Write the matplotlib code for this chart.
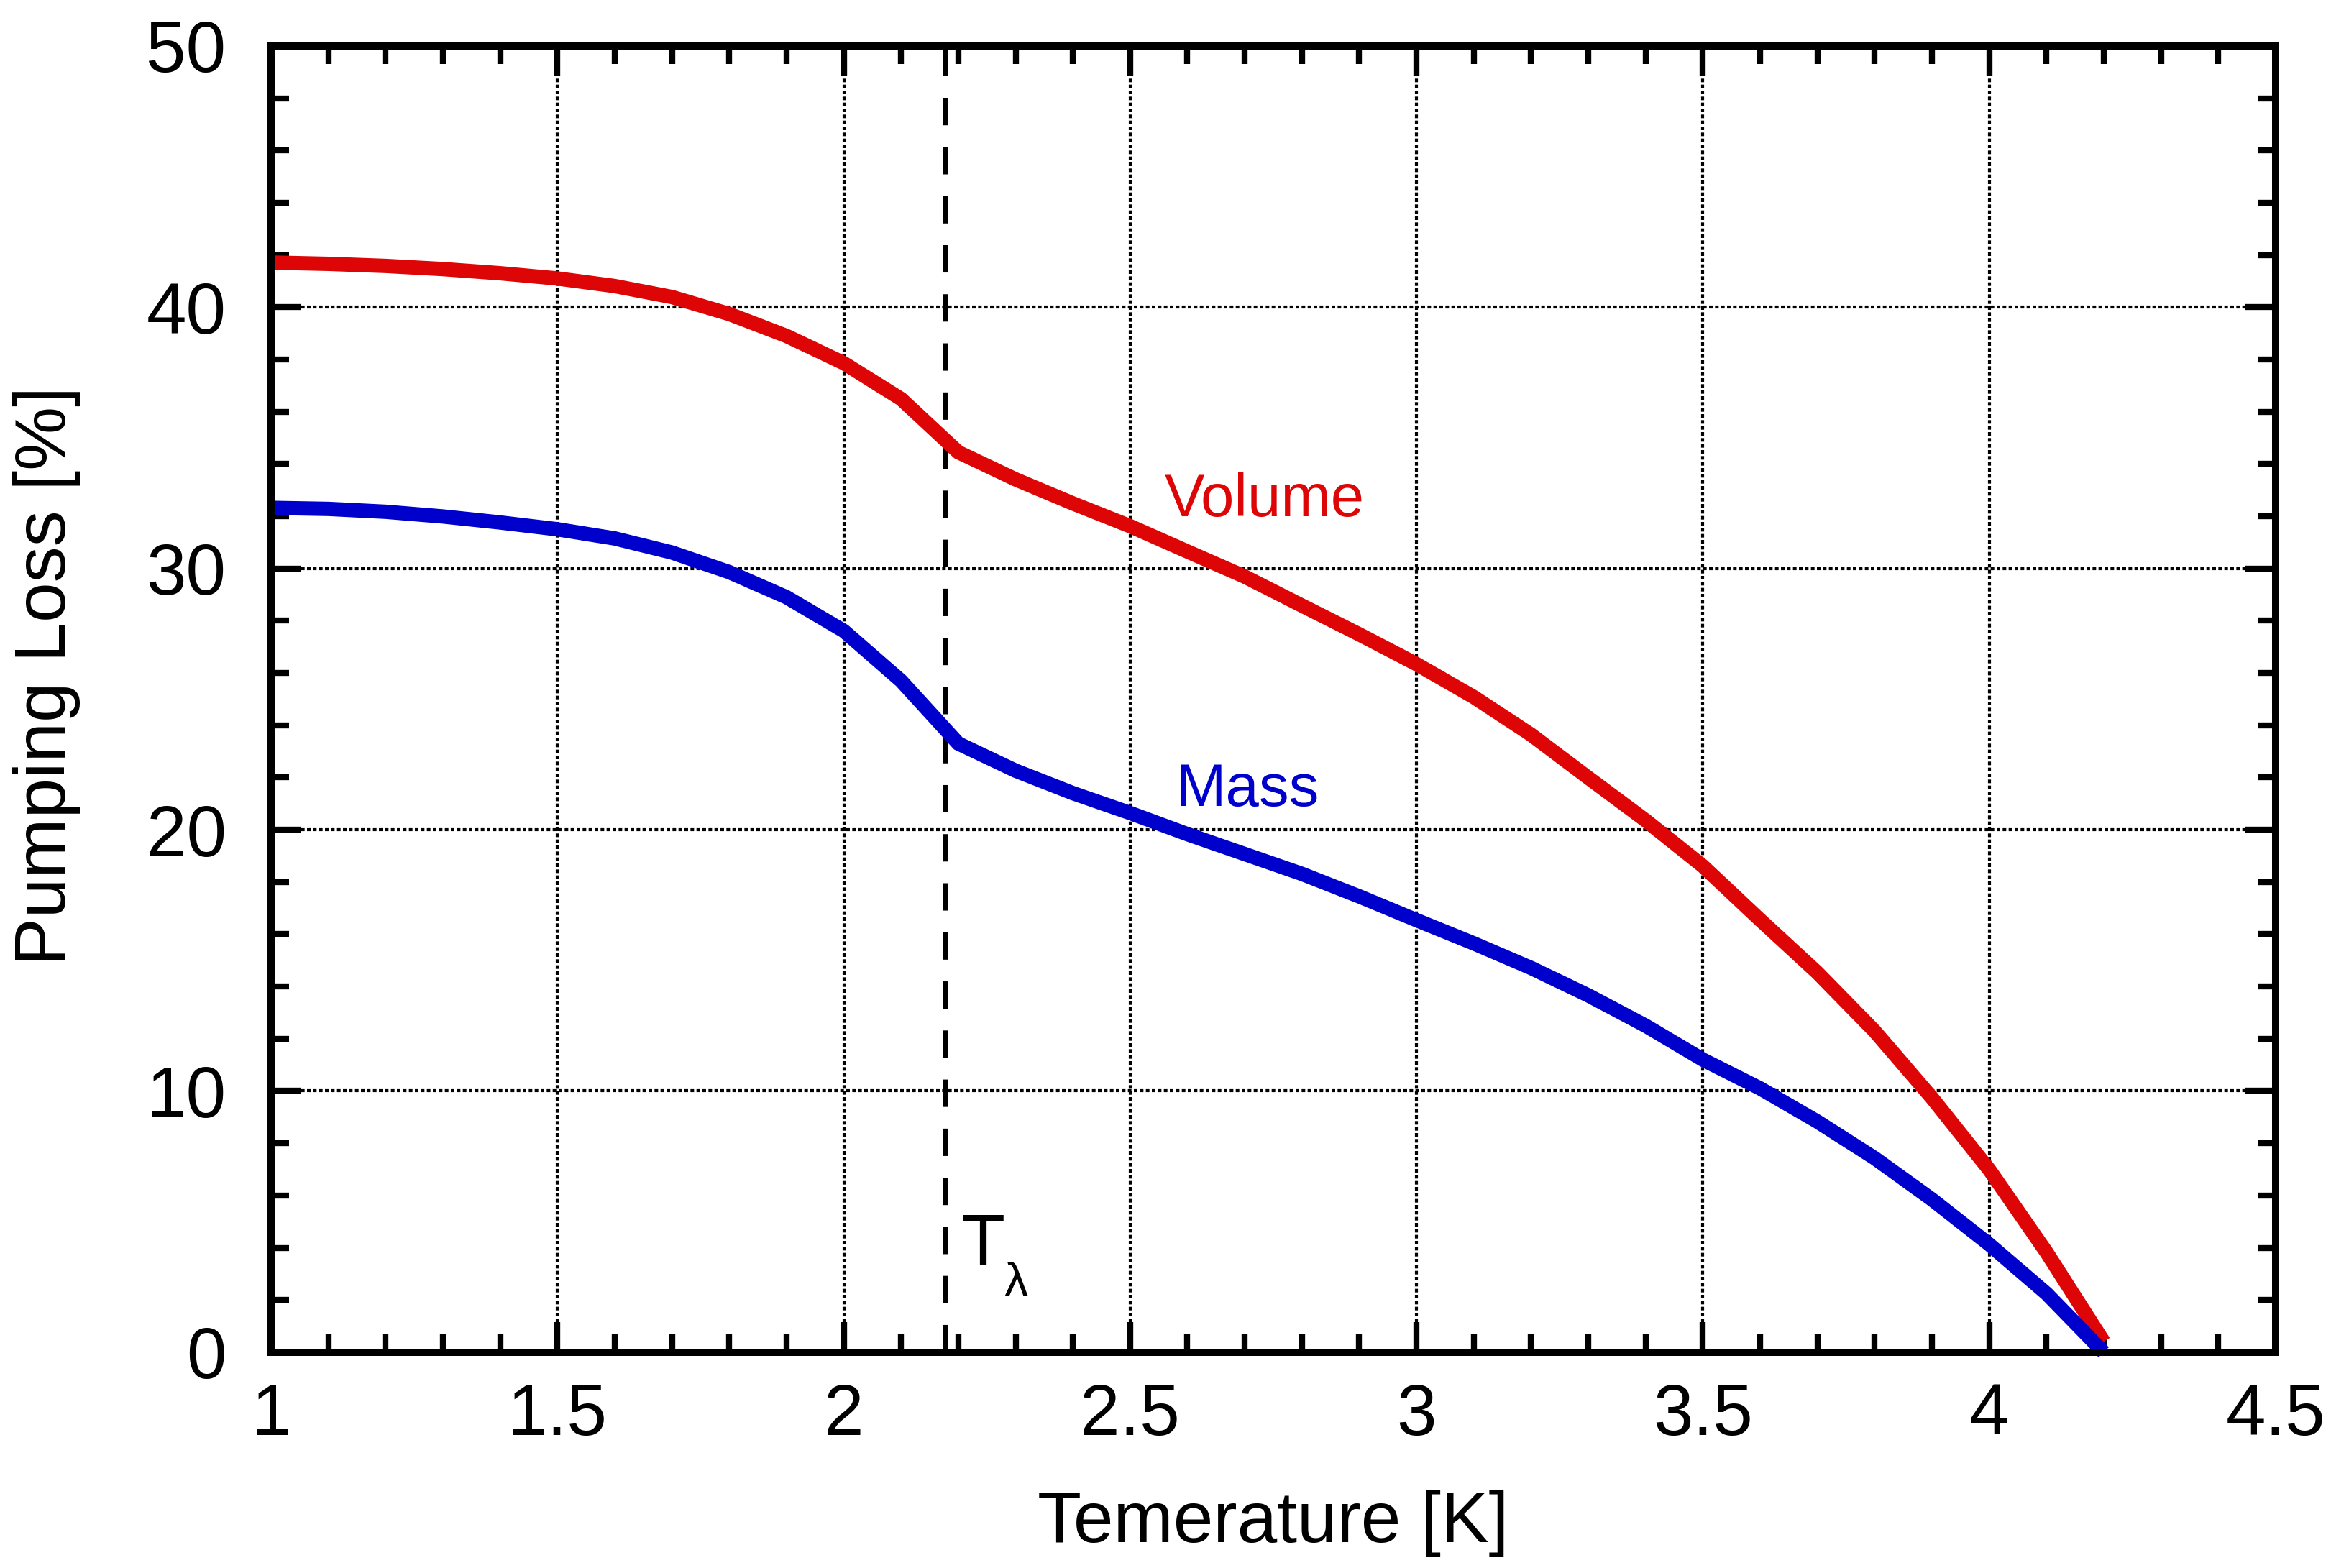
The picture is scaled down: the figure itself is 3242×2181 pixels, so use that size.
"""Pumping loss of helium vs. bath temperature (volume and mass)."""
import matplotlib

matplotlib.use("Agg")
import matplotlib.pyplot as plt
from matplotlib.ticker import MultipleLocator, FormatStrFormatter

plt.rcParams["font.family"] = ["Liberation Sans", "DejaVu Sans"]

# data
temperature = [1.0, 1.1, 1.2, 1.3, 1.4, 1.5, 1.6, 1.7, 1.8, 1.9, 2.0,
               2.1, 2.2, 2.3, 2.4, 2.5, 2.6, 2.7, 2.8, 2.9, 3.0,
               3.1, 3.2, 3.3, 3.4, 3.5, 3.6, 3.7, 3.8, 3.9, 4.0,
               4.1, 4.2]
volume_loss = [41.71, 41.66, 41.58, 41.46, 41.30, 41.10, 40.81, 40.39, 39.74, 38.90, 37.86,
               36.49, 34.45, 33.41, 32.49, 31.62, 30.65, 29.69, 28.58, 27.48, 26.34,
               25.08, 23.64, 21.99, 20.36, 18.61, 16.55, 14.53, 12.29, 9.74, 6.99,
               3.83, 0.40]
mass_loss = [32.32, 32.28, 32.17, 31.99, 31.76, 31.50, 31.15, 30.61, 29.86, 28.90, 27.61,
             25.70, 23.30, 22.26, 21.40, 20.64, 19.83, 19.07, 18.31, 17.45, 16.54,
             15.65, 14.71, 13.66, 12.50, 11.20, 10.10, 8.83, 7.43, 5.85, 4.13,
             2.25, 0.0]
t_lambda = 2.177

RED = "#dd0505"
BLUE = "#0000cc"

fig = plt.figure(figsize=(3242 / 300, 2181 / 300), dpi=300)
ax = fig.add_axes([0.1163, 0.1376, 0.8599, 0.8331])

ax.plot(temperature, volume_loss, color=RED, lw=4.8, solid_capstyle="butt",
        solid_joinstyle="miter", clip_on=False, zorder=4)
ax.plot(temperature, mass_loss, color=BLUE, lw=4.8, solid_capstyle="butt",
        solid_joinstyle="miter", clip_on=False, zorder=4)

# lambda point
ax.axvline(t_lambda, color="black", lw=1.45, dashes=(6.3, 5.0), zorder=3)
ax.text(2.205, 3.38, "T", fontsize=24, ha="left", va="baseline")
ax.text(2.280, 2.15, "λ", fontsize=16, ha="left", va="baseline")

ax.text(2.56, 32.0, "Volume", color=RED, fontsize=20, ha="left", va="baseline")
ax.text(2.58, 20.9, "Mass", color=BLUE, fontsize=20, ha="left", va="baseline")

ax.set_xlim(1, 4.5)
ax.set_ylim(0, 50)
ax.xaxis.set_major_locator(MultipleLocator(0.5))
ax.xaxis.set_minor_locator(MultipleLocator(0.1))
ax.yaxis.set_major_locator(MultipleLocator(10))
ax.yaxis.set_minor_locator(MultipleLocator(2))
ax.xaxis.set_major_formatter(FormatStrFormatter("%g"))
ax.yaxis.set_major_formatter(FormatStrFormatter("%g"))

ax.grid(True, which="major", color="black", lw=1.0, linestyle=(0, (1.2, 0.8)), zorder=1)
ax.tick_params(which="both", direction="in", top=True, right=True, width=2.0,
               labelsize=24, color="black")
ax.tick_params(which="major", length=10, pad=10)
ax.tick_params(axis="y", which="major", pad=15)
ax.tick_params(which="minor", length=6)
for spine in ax.spines.values():
    spine.set_linewidth(2.4)
    spine.set_zorder(5)

ax.set_xlabel("Temerature [K]", fontsize=24)
ax.set_ylabel("Pumping Loss [%]", fontsize=24)
ax.xaxis.set_label_coords(0.5, -0.105)
ax.yaxis.set_label_coords(-0.095, 0.518)

fig.savefig("out.png", dpi=300)
